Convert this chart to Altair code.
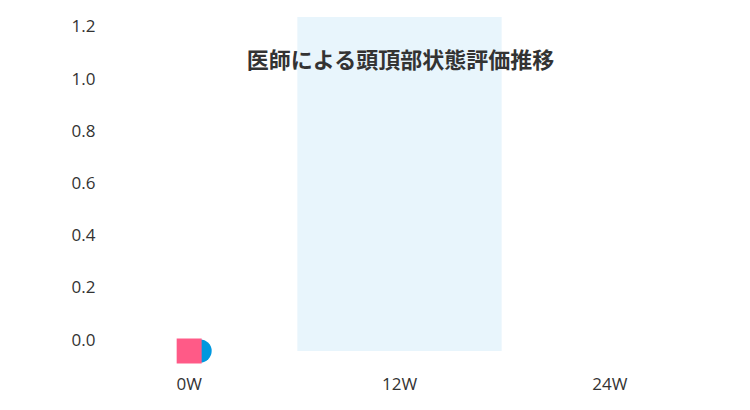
import altair as alt
import pandas as pd

# ---- data ----
weeks = ["0W", "12W", "24W"]
pink_weeks = ["0W"]
pink_values = [0.0]
blue_weeks = ["0W"]
blue_values = [0.0]
highlight_weeks = ["12W"]
y_ticks = [0.0, 0.2, 0.4, 0.6, 0.8, 1.0, 1.2]
y_min = 0.0
y_max = 1.28
chart_title = "医師による頭頂部状態評価推移"

W = 631
H = 334

pink_df = pd.DataFrame({"week": pink_weeks, "value": pink_values})
blue_df = pd.DataFrame({"week": blue_weeks, "value": blue_values})
band_df = pd.DataFrame({"week": highlight_weeks, "lo": [y_min] * len(highlight_weeks),
                        "hi": [y_max] * len(highlight_weeks)})
title_df = pd.DataFrame({"t": [chart_title]})

x_scale = alt.Scale(domain=weeks, paddingInner=0.0286, paddingOuter=0.0143)
y_scale = alt.Scale(domain=[y_min, y_max], nice=False, zero=True)

x_axis = alt.Axis(title=None, domain=False, ticks=False, grid=False, labelAngle=0,
                  labelFont="Open Sans", labelFontSize=17, labelColor="#333333",
                  labelPadding=25)
y_axis = alt.Axis(title=None, values=y_ticks, format=".1f", domain=False, ticks=False,
                  grid=False, labelFont="Open Sans", labelFontSize=17,
                  labelColor="#333333", labelPadding=5, offset=-16, labelOffset=-11,
                  labelBaseline="middle")

band = alt.Chart(band_df).mark_rect(color="#E8F5FC").encode(
    x=alt.X("week:N", scale=x_scale, axis=x_axis, sort=weeks),
    y=alt.Y("lo:Q", scale=y_scale, axis=y_axis),
    y2="hi:Q",
)

blue = alt.Chart(blue_df).mark_point(shape="circle", filled=True, size=531, opacity=1,
                                     color="#0098DF", xOffset=11).encode(
    x=alt.X("week:N", scale=x_scale, axis=x_axis, sort=weeks),
    y=alt.Y("value:Q", scale=y_scale, axis=y_axis),
)

pink = alt.Chart(pink_df).mark_point(shape="square", filled=True, size=625, opacity=1,
                                     color="#FF5A87").encode(
    x=alt.X("week:N", scale=x_scale, axis=x_axis, sort=weeks),
    y=alt.Y("value:Q", scale=y_scale, axis=y_axis),
)

title = alt.Chart(title_df).mark_text(font="Noto Sans CJK JP", fontSize=22,
                                      fontWeight="bold",
                                      color="#333333", baseline="middle",
                                      align="center").encode(
    text="t:N",
    x=alt.value(W / 2 + 1),
    y=alt.value(44),
)

chart = alt.layer(band, blue, pink, title).properties(
    width=W,
    height=H,
    padding={"left": 76, "top": 9, "right": 20, "bottom": 50},
    autosize=alt.AutoSizeParams(type="none"),
    background="white",
).configure_view(stroke=None)

chart.save("out.html", embed_options={"renderer": "svg", "actions": False})
